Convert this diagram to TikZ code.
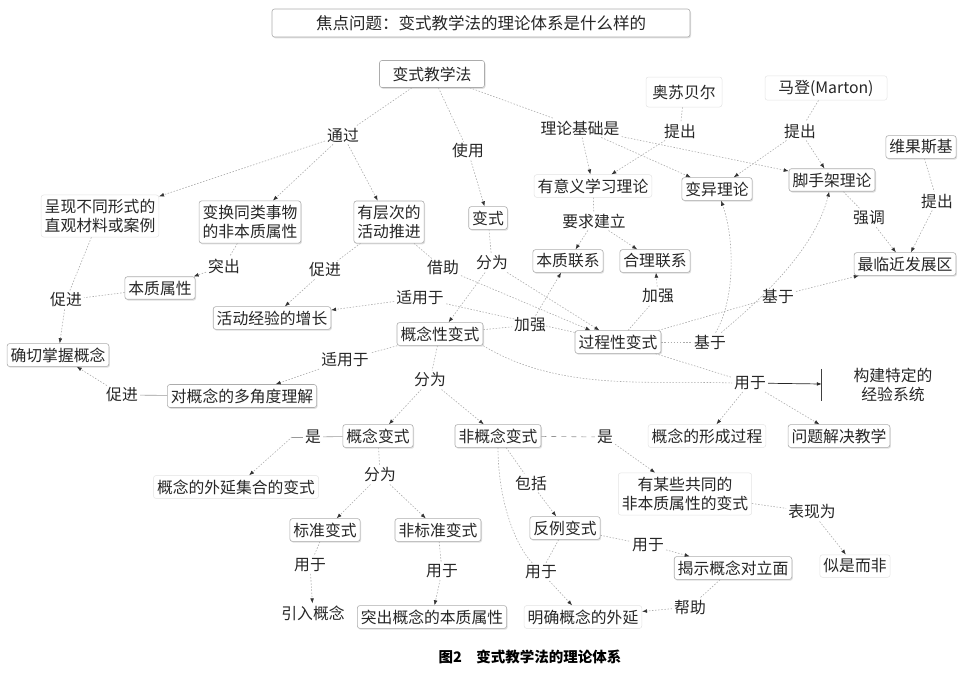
\documentclass[tikz,border=0pt]{standalone}
\usepackage{fontspec}
\setmainfont{Noto Sans CJK SC}
\usetikzlibrary{arrows.meta,shadows,calc}
\begin{document}
\begin{tikzpicture}[x=1pt,y=-1pt,
  every node/.style={font=\fontsize{15.8pt}{19.5pt}\selectfont, text=black!85},
  cbox/.style={draw=gray!65, line width=0.6pt, rounded corners=2.5pt, fill=white, inner xsep=3.5pt, inner ysep=4pt, align=center,
     drop shadow={shadow xshift=1pt, shadow yshift=-1.3pt, opacity=0.25}},
  fbox/.style={draw=gray!22, line width=0.5pt, rounded corners=2.5pt, fill=white, inner xsep=3.5pt, inner ysep=4pt, align=center},
  lbl/.style={inner sep=2pt},
  con/.style={draw=gray!65, line width=0.6pt, dash pattern=on 1.5pt off 1.6pt},
  arr/.style={con, -{Latex[length=5pt,width=3.8pt,color=black!80]}},
  sol/.style={draw=gray!80, line width=0.6pt},
]
\useasboundingbox (0,0) rectangle (979,673);

% ---------- nodes ----------
\node[cbox, minimum width=418pt, minimum height=28pt, font=\fontsize{16.5pt}{19pt}\selectfont] (title) at (481,23) {焦点问题：变式教学法的理论体系是什么样的};
\node[cbox, minimum width=105pt, minimum height=27pt] (bsjx) at (432,74) {变式教学法};

\node[lbl] (tq) at (343,135) {通过};
\node[lbl] (sy) at (468,151) {使用};
\node[lbl] (llj) at (580,128) {理论基础是};

\node[fbox, minimum width=76pt, minimum height=30pt] (asbe) at (684,92) {奥苏贝尔};
\node[fbox, minimum width=122pt] (md) at (826,88) {马登(Marton)};
\node[lbl] (tc1) at (680,131) {提出};
\node[lbl] (tc2) at (800,131) {提出};
\node[cbox] (wgsj) at (921,147) {维果斯基};
\node[lbl] (tc3) at (937,201) {提出};

\node[fbox] (yyy) at (593,186) {有意义学习理论};
\node[cbox] (byll) at (717,189) {变异理论};
\node[cbox] (jsj) at (832,180) {脚手架理论};
\node[lbl] (qd) at (869,218) {强调};
\node[cbox] (zlj) at (905,264) {最临近发展区};

\node[lbl] (yqjl) at (594,221) {要求建立};
\node[cbox] (bzlx) at (568,261) {本质联系};
\node[cbox] (hllx) at (655,261) {合理联系};
\node[lbl] (jq1) at (658,296) {加强};
\node[lbl] (jy1) at (778,296) {基于};
\node[lbl] (jy2) at (710,342) {基于};
\node[cbox] (gcx) at (618,342) {过程性变式};
\node[lbl] (jq2) at (530,325) {加强};
\node[cbox] (gnx) at (440,334) {概念性变式};
\node[lbl] (syy1) at (420,298) {适用于};
\node[lbl] (jz) at (443,268) {借助};
\node[lbl] (fw1) at (492,263) {分为};
\node[cbox] (bs) at (488,218) {变式};

\node[fbox] (cx) at (100,216) {呈现不同形式的\\直观材料或案例};
\node[cbox] (bh) at (250,222) {变换同类事物\\的非本质属性};
\node[cbox] (ycc) at (389,222) {有层次的\\活动推进};
\node[lbl] (tc) at (224,266) {突出};
\node[cbox] (bzsx) at (160,288) {本质属性};
\node[lbl] (cj1) at (325,270) {促进};
\node[cbox] (hdjy) at (272,318) {活动经验的增长};
\node[lbl] (cj2) at (66,300) {促进};
\node[cbox] (qqzw) at (58,355) {确切掌握概念};
\node[lbl] (syy2) at (345,360) {适用于};
\node[cbox] (djd) at (242,396) {对概念的多角度理解};
\node[lbl] (cj3) at (122,395) {促进};

\node[lbl] (fw2) at (430,380) {分为};
\node[cbox] (gnbs) at (378,436) {概念变式};
\node[lbl] (shi1) at (313,437) {是};
\coordinate (shl) at (292,437);
\node[fbox] (gnwy) at (236,487) {概念的外延集合的变式};
\node[lbl] (fw3) at (380,475) {分为};
\node[cbox] (bzbs) at (325,530) {标准变式};
\node[cbox] (fbz) at (438,530) {非标准变式};
\node[lbl] (yy1) at (310,565) {用于};
\node[lbl] (yy2) at (442,571) {用于};
\node[lbl] (yrgn) at (313,613) {引入概念};
\node[cbox] (tcgn) at (432,617) {突出概念的本质属性};

\node[cbox] (fgn) at (498,436) {非概念变式};
\node[lbl] (shi2) at (605,437) {是};
\node[lbl] (bk) at (531,483) {包括};
\node[fbox] (ymx) at (685,494) {有某些共同的\\非本质属性的变式};
\node[lbl] (bxw) at (812,512) {表现为};
\node[fbox] (ssef) at (855,566) {似是而非};
\node[cbox] (flbs) at (565,528) {反例变式};
\node[lbl] (yy3) at (648,545) {用于};
\node[cbox] (jsgn) at (733,568) {揭示概念对立面};
\node[lbl] (bz) at (690,607) {帮助};
\node[lbl] (yy4) at (541,572) {用于};
\node[fbox] (mqgn) at (583,617) {明确概念的外延};

\node[fbox] (gnxc) at (707,436) {概念的形成过程};
\node[cbox] (wtjj) at (839,436) {问题解决教学};
\node[lbl] (yy5) at (750,383) {用于};
\node[inner sep=4pt, minimum width=142pt, minimum height=40pt, align=center] (gjtd) at (893,385) {构建特定的\\经验系统};
\draw[black!75, line width=0.8pt] (gjtd.north west) ++(0,5) -- ($(gjtd.south west)+(0,-5)$);

\node[font=\fontsize{14.5pt}{17pt}\selectfont\bfseries, text=black] (cap) at (530,657) {图2\quad 变式教学法的理论体系};

% ---------- connectors ----------
\draw[con] (bsjx) -- (tq);
\draw[arr] (tq) -- (cx);
\draw[arr] (tq) -- (bh);
\draw[arr] (tq) -- (ycc);
\draw[con] (bsjx) -- (sy);
\draw[arr] (sy) -- (bs);
\draw[con] (bsjx) -- (llj);
\draw[arr] (llj) -- (yyy);
\draw[arr] (llj) -- (byll);
\draw[arr] (llj) -- (jsj);

\draw[con] (asbe) -- (tc1);
\draw[arr] (tc1) -- (yyy);
\draw[con] (md) -- (tc2);
\draw[arr] (tc2) -- (byll);
\draw[arr] (tc2) -- (jsj);
\draw[con] (wgsj) -- (tc3);
\draw[arr] (tc3) -- (zlj);
\draw[con] (jsj) -- (qd);
\draw[arr] (qd) -- (zlj);

\draw[con] (yyy) -- (yqjl);
\draw[arr] (yqjl) -- (bzlx);
\draw[arr] (yqjl) -- (hllx);
\draw[con] (gcx) -- (jq1);
\draw[arr] (jq1) -- (hllx);
\draw[con] (gnx) -- (jq2);
\draw[arr] (jq2) -- (bzlx);
\draw[con] (gcx) -- (jy1);
\draw[arr] (jy1) -- (zlj);
\draw[con] (gcx) -- (jy2);
\draw[arr] (jy2) .. controls (735,300) and (735,240) .. (byll);
\draw[arr] (jy2) .. controls (760,300) and (815,250) .. (jsj);

\draw[con] (bs) -- (fw1);
\draw[arr] (fw1) -- (gnx);
\draw[arr] (fw1) -- (gcx);
\draw[con] (ycc) -- (jz);
\draw[arr] (jz) -- (gcx);
\draw[con] (gcx) -- (syy1);
\draw[arr] (syy1) -- (hdjy);
\draw[con] (ycc) -- (cj1);
\draw[arr] (cj1) -- (hdjy);
\draw[con] (bh) -- (tc);
\draw[arr] (tc) -- (bzsx);
\draw[con] (cx) -- (cj2);
\draw[con] (bzsx) -- (cj2);
\draw[arr] (cj2) -- (qqzw);
\draw[sol] (djd) -- (cj3);
\draw[arr] (cj3) -- (qqzw);
\draw[con] (gnx) -- (syy2);
\draw[arr] (syy2) -- (djd);

\draw[con] (gnx) -- (fw2);
\draw[arr] (fw2) -- (gnbs);
\draw[arr] (fw2) -- (fgn);
\draw[sol] (gnbs) -- (shi1);
\draw[sol] (shi1) -- (shl);
\draw[arr] (shl) -- (gnwy);
\draw[con] (gnbs) -- (fw3);
\draw[arr] (fw3) -- (bzbs);
\draw[arr] (fw3) -- (fbz);
\draw[con] (bzbs) -- (yy1);
\draw[arr] (yy1) -- (yrgn);
\draw[con] (fbz) -- (yy2);
\draw[arr] (yy2) -- (tcgn);

\draw[con, dash pattern=on 5pt off 5pt, draw=gray!85] (fgn) -- (shi2);
\draw[arr] (shi2) -- (ymx);
\draw[con] (fgn) -- (bk);
\draw[arr] (bk) -- (flbs);
\draw[con] (fgn.south) .. controls (498,500) and (515,545) .. (yy4);
\draw[con] (flbs) -- (yy4);
\draw[arr] (yy4) -- (mqgn);
\draw[con] (ymx) -- (bxw);
\draw[arr] (bxw) -- (ssef);
\draw[con] (flbs) -- (yy3);
\draw[arr] (yy3) -- (jsgn);
\draw[con] (jsgn) -- (bz);
\draw[arr] (bz) -- (mqgn);

\draw[con] (gcx) -- (yy5);
\draw[con] (gnx.south east) .. controls (560,392) and (650,380) .. (yy5.west);
\draw[arr] (yy5) -- (gnxc);
\draw[arr] (yy5) -- (wtjj);
\draw[black!85, line width=0.7pt, -{Latex[length=5pt,width=3.8pt]}] (yy5) -- (gjtd);
\end{tikzpicture}
\end{document}
